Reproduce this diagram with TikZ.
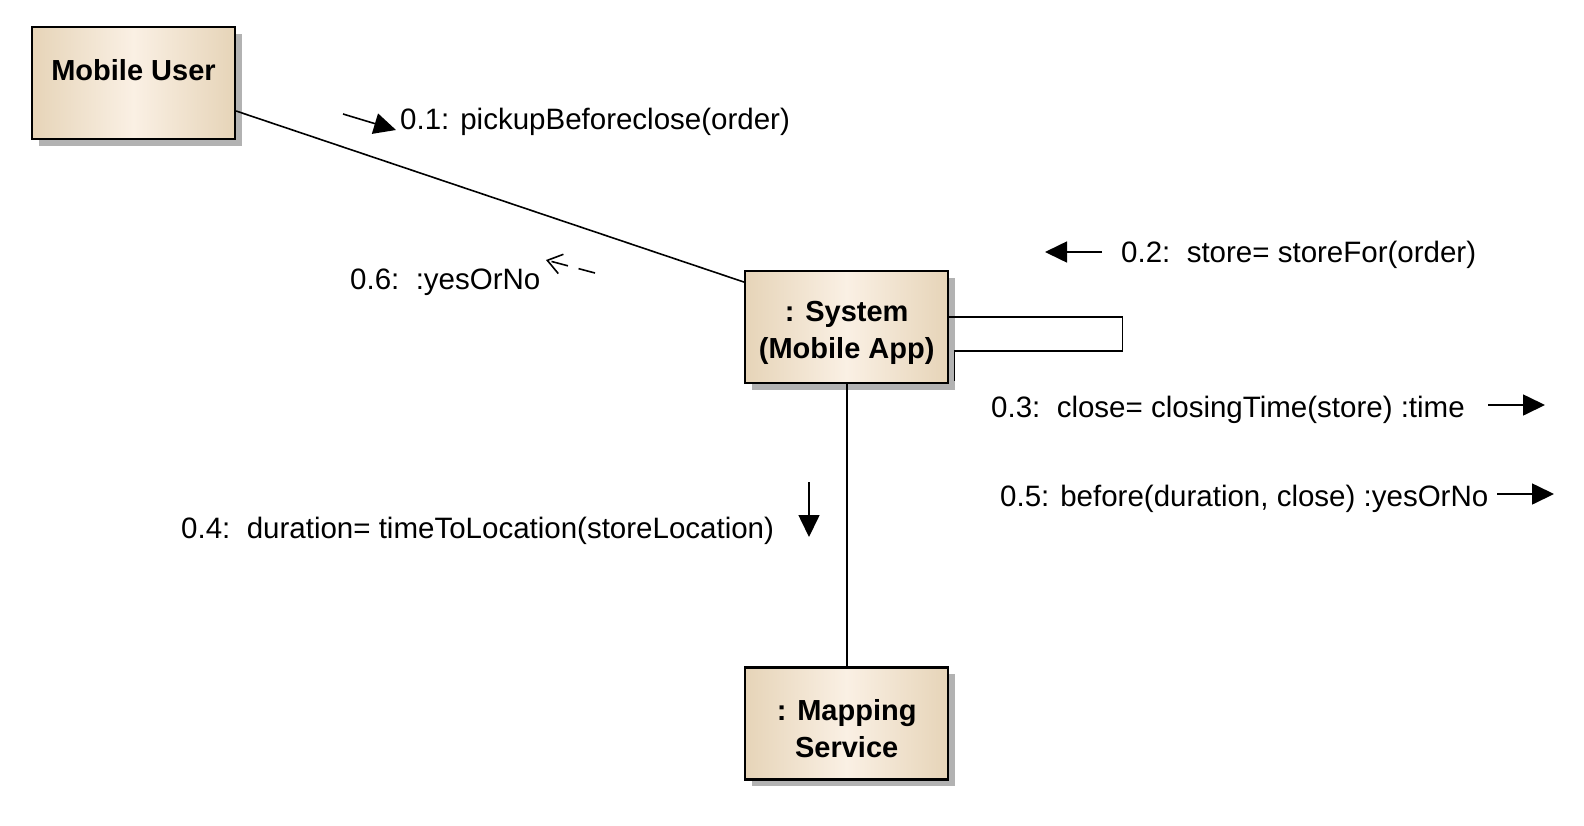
\documentclass[tikz,border=0pt]{standalone}
\usepackage{fontspec}
\setmainfont{Liberation Sans}
\usetikzlibrary{arrows.meta,shapes,positioning,shadows}

\definecolor{boxedge}{RGB}{230,212,184}
\definecolor{boxmid}{RGB}{250,240,228}
\newcommand{\topgap}{\rule{0pt}{32pt}}

\begin{document}
\begin{tikzpicture}[
  x=1pt, y=-1pt,
  obj/.style={draw,line width=2.2pt,minimum width=203pt,minimum height=112pt,
    left color=boxedge,right color=boxedge,middle color=boxmid,align=center,
    font=\fontsize{29}{37}\selectfont\bfseries,
    drop shadow={shadow xshift=7pt,shadow yshift=-7pt,fill=black!30,opacity=1}},
  msgtxt/.style={anchor=west,inner sep=0pt,text height=22pt,text depth=2pt,
    font=\fontsize{29.5}{36}\selectfont},
  link/.style={line width=1.6pt},
  msg/.style={line width=1.6pt,-{Triangle[length=22pt,width=21pt]}},
  reply/.style={line width=1.6pt,dash pattern=on 17pt off 11pt,
    -{Straight Barb[length=14pt,width=20pt,line width=1.6pt]}},
  ]
  \useasboundingbox (0,0) rectangle (1584,825);

  \node[obj] (user) at (133.5,83) {\topgap Mobile User\\\mbox{}};
  \node[obj, below right = 130pt and 508pt of user] (system) {\topgap: System\\(Mobile App)};
  \node[obj, below = 282pt of system] (mapping) {\topgap: Mapping\\Service};

  \draw[link] (user.east |- 0,111) -- ([yshift=-12pt]system.north west);
  \draw[link] (system) -- (mapping);
  \draw[link] ([yshift=10.5pt]system.east) -- ++(173,0) -- ++(0,34) -- ++(-168,0) -- ++(0,30);

  % messages
  \node[msgtxt] (m1) at (400,119) {0.1: pickupBeforeclose(order)};
  \node[msgtxt] (m2) at (1121,252) {0.2:\ \ store= storeFor(order)};
  \node[msgtxt] (m3) at (991,407) {0.3:\ \ close= closingTime(store) :time};
  \node[msgtxt] (m4) at (181,528) {0.4:\ \ duration= timeToLocation(storeLocation)};
  \node[msgtxt] (m5) at (1000,496) {0.5: before(duration, close) :yesOrNo};
  \node[msgtxt] (m6) at (350,279) {0.6:\ \ :yesOrNo};

  \coordinate (a1) at (343,114);   \coordinate (b1) at (396,130);
  \coordinate (a2) at (1102,252);  \coordinate (b2) at (1045,252);
  \coordinate (a3) at (1488,405);  \coordinate (b3) at (1545,405);
  \coordinate (a4) at (809,482);   \coordinate (b4) at (809,537);
  \coordinate (a5) at (1497,494);  \coordinate (b5) at (1554,494);
  \coordinate (a6) at (595,273);   \coordinate (b6) at (546,260);

  \draw[msg] (a1) -- (b1);
  \draw[msg] (a2) -- (b2);
  \draw[msg] (a3) -- (b3);
  \draw[msg] (a4) -- (b4);
  \draw[msg] (a5) -- (b5);
  \draw[reply] (a6) -- (b6);

\end{tikzpicture}
\end{document}
